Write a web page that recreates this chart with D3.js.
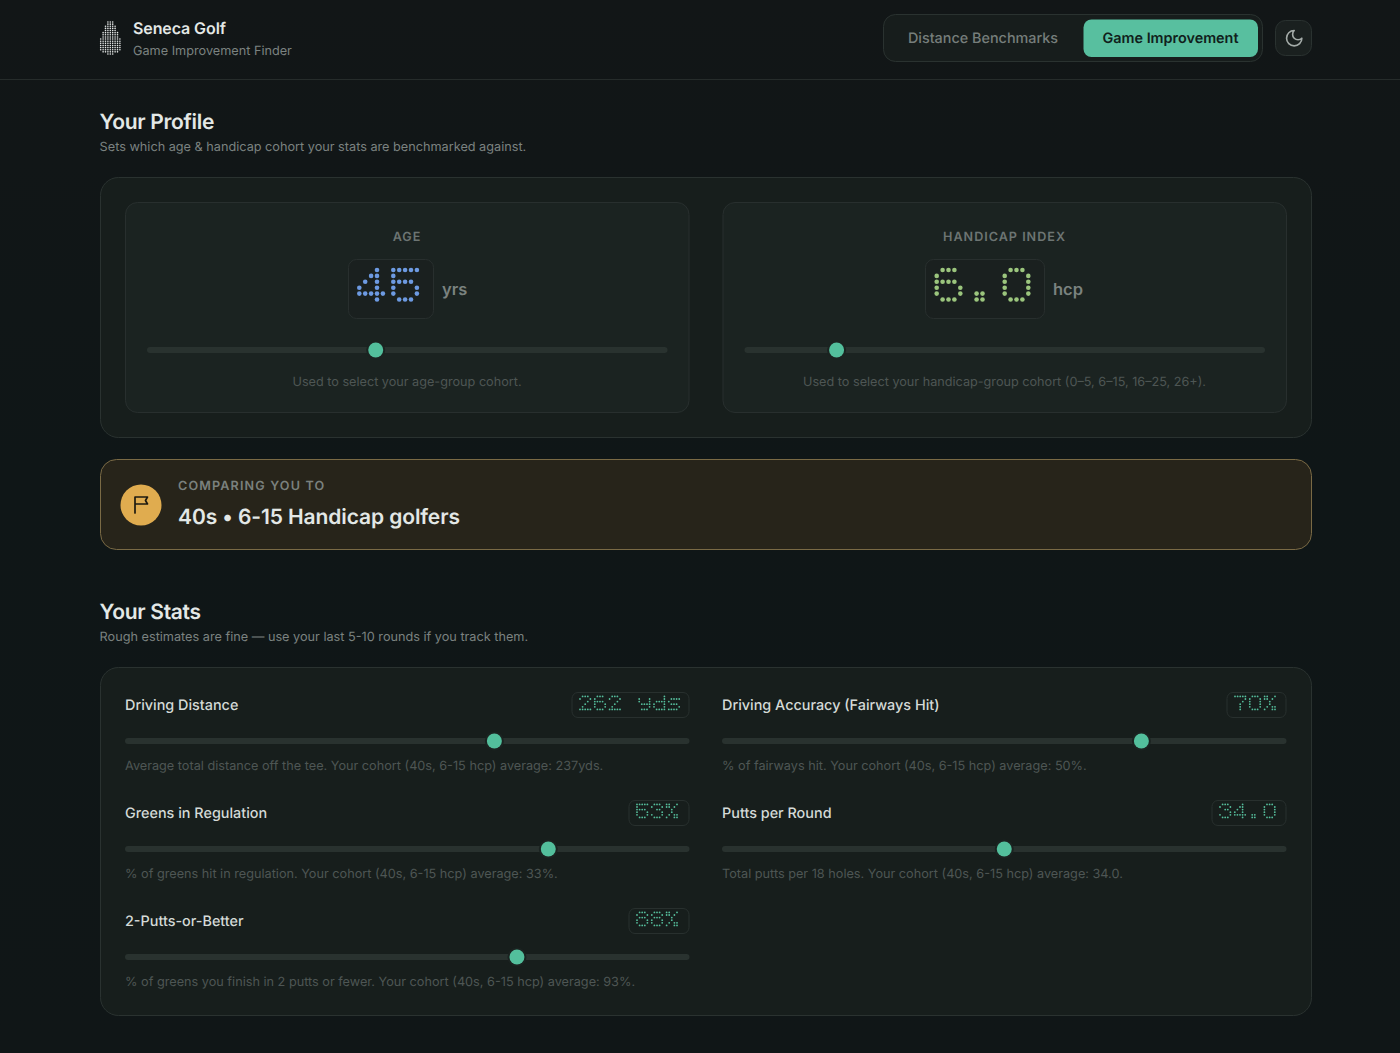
<!DOCTYPE html>
<html>
<head>
<meta charset="utf-8">
<title>Seneca Golf</title>
<script src="https://cdn.jsdelivr.net/npm/d3@7"></script>
<style>
html,body{margin:0;padding:0;background:#101617;overflow:hidden}
svg{display:block}
text{font-family:Inter,"Noto Sans",sans-serif;text-rendering:geometricPrecision}
</style>
</head>
<body>
<div id="viz-container"></div>
<script>
// profile sliders
var profileLabels=["AGE","HANDICAP INDEX"];
var profileValues=[45,6];
var profileText=["45","6.0"];
var profileUnits=["yrs","hcp"];
var profileMin=[10,0];
var profileMax=[90,36];
var profileColors=["#6d9ae2","#9bc57d"];
var profileHelp=["Used to select your age-group cohort.","Used to select your handicap-group cohort (0–5, 6–15, 16–25, 26+)."];

// stat sliders
var statLabels=["Driving Distance","Driving Accuracy (Fairways Hit)","Greens in Regulation","Putts per Round","2-Putts-or-Better"];
var statValues=[262,70,53,34,88];
var statText=["262 yds","70%","53%","34.0","88%"];
var statMin=[150,10,0,24,60];
var statMax=[320,90,70,44,100];
var statHelp=[
  "Average total distance off the tee. Your cohort (40s, 6-15 hcp) average: 237yds.",
  "% of fairways hit. Your cohort (40s, 6-15 hcp) average: 50%.",
  "% of greens hit in regulation. Your cohort (40s, 6-15 hcp) average: 33%.",
  "Total putts per 18 holes. Your cohort (40s, 6-15 hcp) average: 34.0.",
  "% of greens you finish in 2 putts or fewer. Your cohort (40s, 6-15 hcp) average: 93%."
];

// dot matrix letters, 5 columns by 6 rows
var glyphs={
  "0":[".###.","#...#","#...#","#...#","#...#",".###."],
  "2":[".###.","#...#","...#.","..#..",".#...","#####"],
  "3":[".###.","#...#","..##.","....#","#...#",".###."],
  "4":["...#.","..##.",".#.#.","#..#.","#####","...#."],
  "5":["#####","#....","####.","#...#","#...#",".###."],
  "6":[".###.","#....","####.","#...#","#...#",".###."],
  "7":["#####","....#","...#.","..#..","..#..","..#.."],
  "8":[".###.","#...#",".###.","#...#","#...#",".###."],
  "y":[".....","#...#","#...#",".####","....#",".###."],
  "d":["....#","....#",".####","#...#","#...#",".####"],
  "s":[".....",".####","#....",".###.","....#","####."],
  "%":["##..#","##.#.","..#..","..#..",".#.##","#..##"],
  ".":[".....",".....",".....",".....",".##..",".##.."],
  " ":[]
};

// dots per row of the golf ball logo
var logoRows=[3,3,5,5,5,7,7,7,9,9,9,9,9,9,7,3];

var card="#171e1c",inner="#1b2321",line="#2a3230",green="#53bf9c";

var viz=d3.select("#viz-container")
  .append("svg")
    .attr("id","viz")
    .attr("width",1400)
    .attr("height",1053);

var defs=viz.append("defs");
var grad=defs.append("linearGradient").attr("id","page").attr("x1",0).attr("x2",0).attr("y1",0).attr("y2",1);
grad.append("stop").attr("offset","0%").attr("stop-color","#121617");
grad.append("stop").attr("offset","45%").attr("stop-color","#0f1617");
grad.append("stop").attr("offset","100%").attr("stop-color","#101617");

viz.append("rect").attr("width",1400).attr("height",1053).attr("fill","url(#page)");

function box(x0,y0,x1,y1,r,fill,stroke){
  return viz.append("rect")
    .attr("x",x0+0.5).attr("y",y0+0.5)
    .attr("width",x1-x0-1).attr("height",y1-y0-1)
    .attr("rx",r)
    .attr("fill",fill)
    .attr("stroke",stroke||"none");
}
function label(x,y,str,size,weight,color,anchor,spacing){
  return viz.append("text")
    .attr("x",x).attr("y",y)
    .attr("font-size",size)
    .attr("font-weight",weight)
    .attr("fill",color)
    .attr("text-anchor",anchor||"start")
    .attr("letter-spacing",spacing||0)
    .text(str);
}

// draws a string in dots, cell = width of a letter, step = distance between dots
function dotText(str,x,y,cell,step,r,color){
  var cols=d3.scaleLinear().domain([0,1]).range([0,step]);
  var rows=d3.scaleLinear().domain([0,1]).range([y,y+step]);
  var pts=[];
  str.split("").forEach(function(ch,i){
    (glyphs[ch]||[]).forEach(function(row,j){
      row.split("").forEach(function(c,k){
        if(c=="#") pts.push({x:x+i*cell+cols(k),y:rows(j)});
      });
    });
  });
  viz.append("g").selectAll("circle").data(pts).enter()
    .append("circle")
    .attr("cx",function(d){return d.x})
    .attr("cy",function(d){return d.y})
    .attr("r",r)
    .attr("fill",color);
}

function slider(x0,x1,y,value,min,max){
  // thumb stops 8px short of each end, like a range input
  var scale=d3.scaleLinear().domain([min,max]).range([x0+8,x1-8]);
  viz.append("rect")
    .attr("x",x0).attr("y",y-3).attr("width",x1-x0).attr("height",6).attr("rx",3)
    .attr("fill","#29322f");
  viz.append("circle")
    .attr("cx",scale(value)).attr("cy",y).attr("r",9.5)
    .attr("fill",inner);
  viz.append("circle")
    .attr("cx",scale(value)).attr("cy",y).attr("r",7.5)
    .attr("fill",green);
}

// header
viz.append("line").attr("x1",0).attr("x2",1400).attr("y1",79.5).attr("y2",79.5).attr("stroke","#262c2b");
var logoY=d3.scaleLinear().domain([0,logoRows.length-1]).range([22,54]);
logoRows.forEach(function(n,j){
  viz.append("g").selectAll("circle").data(d3.range(n)).enter()
    .append("circle")
    .attr("cx",function(d){return 110.3+(d-(n-1)/2)*2.4})
    .attr("cy",logoY(j))
    .attr("r",0.8)
    .attr("fill","#e6e9e8");
});
label(133,34,"Seneca Golf",16,600,"#e4e8e6","start",-0.1);
label(133,55,"Game Improvement Finder",12.7,400,"#7b8280");

box(883,14,1263,62,12,"#171d1c",line);
box(1083,19,1258.5,57.5,8,"#58bf9f");
label(983,43,"Distance Benchmarks",14.4,500,"#767e7b","middle");
label(1170.5,43,"Game Improvement",14.4,600,"#10201b","middle");
box(1275,20,1312,56,10,"#1a201f",line);
viz.append("path")
  .attr("d","M12 3a6 6 0 0 0 9 9 9 9 0 1 1-9-9Z")
  .attr("transform","translate(1284,28) scale(0.85)")
  .attr("fill","none").attr("stroke","#a4aba8").attr("stroke-width",1.9)
  .attr("stroke-linecap","round").attr("stroke-linejoin","round");

// profile section
label(99.6,128.5,"Your Profile",21,600,"#e3e8e6","start",-0.3);
label(99.6,150.7,"Sets which age & handicap cohort your stats are benchmarked against.",12.7,400,"#7b8280");
box(100,177,1312,438,18,card,line);

var profileLeft=[125,722.5];
var boxLeft=[348,925];
var boxRight=[434,1045];
var digitLeft=[359.3,936.7];
profileLabels.forEach(function(name,i){
  var left=profileLeft[i],right=left+564.5,mid=left+282;
  box(left,202,right,413,12,inner,"#282f2e");
  label(mid,241.2,name,12.6,600,"#6d7573","middle",1);
  box(boxLeft[i],259,boxRight[i],319,8,"#1a201f","#282f2e");
  dotText(profileText[i],digitLeft[i],270,34,5.9,2.3,profileColors[i]);
  label(boxRight[i]+8,295,profileUnits[i],16.5,600,"#7a827f");
  slider(left+22,right-22,350,profileValues[i],profileMin[i],profileMax[i]);
  label(mid,386.2,profileHelp[i],12.67,400,"#4e5654","middle");
});

// cohort callout
box(100,459,1312,550,16,"#27241a","#7a6a45");
viz.append("circle").attr("cx",141).attr("cy",505).attr("r",20.5).attr("fill","#e0ac4f");
viz.append("path")
  .attr("d","M135 513V497h12.5l-2 3.5 2 3.5H135")
  .attr("fill","none").attr("stroke","#1d1a10").attr("stroke-width",1.7)
  .attr("stroke-linejoin","round").attr("stroke-linecap","round");
label(178,490,"COMPARING YOU TO",12.6,600,"#7b817e","start",1.15);
label(178,523.7,"40s • 6-15 Handicap golfers",21,600,"#e3e8e6","start",-0.1);

// stats section
label(99.6,618.5,"Your Stats",21,600,"#e3e8e6","start",-0.3);
label(99.6,640.7,"Rough estimates are fine — use your last 5-10 rounds if you track them.",12.7,400,"#7b8280");
box(100,667,1312,1016,18,card,line);

var statLeft=[125,722];
var boxWidth=[118,60,61,75,61];
statLabels.forEach(function(name,i){
  var left=statLeft[i%2],right=left+564.5;
  var y=Math.floor(i/2)*108;
  label(left,709.6+y,name,14.4,500,"#d4dad7");
  box(right-boxWidth[i],692+y,right,718+y,6,"#171e1c","#28302e");
  dotText(statText[i],right-boxWidth[i]+8.5,696.4+y,14.8,2.6,0.9,"#55bd9b");
  slider(left,right,741+y,statValues[i],statMin[i],statMax[i]);
  label(left,769.7+y,statHelp[i],12.7,400,"#4e5654");
});
</script>
</body>
</html>
